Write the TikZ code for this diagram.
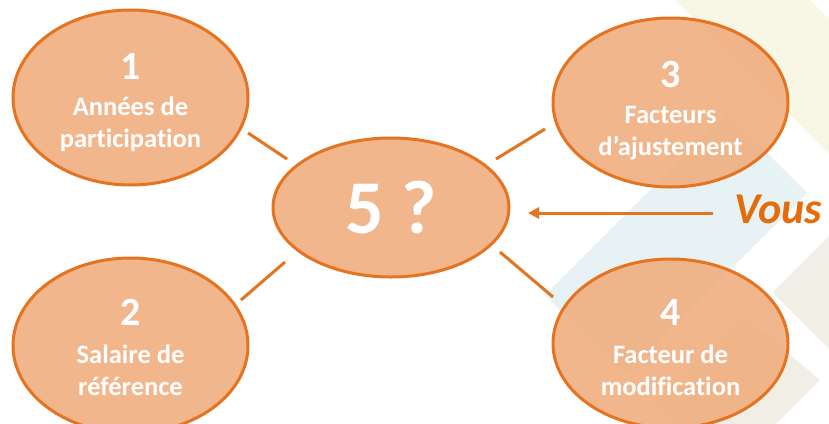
\documentclass[tikz,border=0pt]{standalone}
\usepackage{fontspec}
\setmainfont{Carlito}[Ligatures=NoCommon]
\usetikzlibrary{arrows.meta,shapes.geometric,calc}
\definecolor{ovfill}{HTML}{EFAC7C}
\definecolor{ovline}{HTML}{E5731F}
\definecolor{vouscol}{HTML}{E46C0A}
\definecolor{bgyellow}{HTML}{F8F6E4}
\definecolor{bgblue}{HTML}{E7F2F4}
\definecolor{bgbeige}{HTML}{F1EFE5}
\tikzset{
  oval/.style={ellipse, draw=ovline, line width=3pt, fill=ovfill, fill opacity=0.88, inner sep=0pt},
  bignum/.style={text=white, font=\bfseries\fontsize{40}{40}\selectfont, anchor=base, inner sep=0pt},
  lbl/.style={text=white, font=\bfseries\fontsize{26.5}{26.5}\selectfont, anchor=base, inner sep=0pt},
  conn/.style={draw=ovline, line width=3pt},
  arr/.style={draw=ovline, line width=3pt, -{Triangle[length=11pt,width=11pt]}}
}
\begin{document}
\begin{tikzpicture}[x=1pt,y=-1pt]
\useasboundingbox (0,0) rectangle (829,423);
\begin{scope}
  \clip (0,0) rectangle (829,423);
  \fill[bgyellow] (675,0) -- (810,0) -- (1000,190) -- (865,190) -- cycle;
  \fill[bgblue] (807,193) -- (727,113) -- (545,295) -- (625,375) -- cycle;
  \fill[bgbeige] (772.5,292.5) -- (842.5,222.5) -- (1020,400) -- (950,470) -- cycle;
  \fill[bgbeige] (743,315) -- (820,380) -- (725,475) -- (654,404) -- cycle;
\end{scope}
% ovals
\node[oval, minimum width=235pt, minimum height=175pt] (e1) at (130.5,97.5) {};
\node[oval, minimum width=235pt, minimum height=175pt] (e2) at (130.5,345.5) {};
\node[oval, minimum width=235pt, minimum height=169pt] (e3) at (670.5,102.5) {};
\node[oval, minimum width=235pt, minimum height=169pt] (e4) at (670.5,343.5) {};
\node[oval, minimum width=236pt, minimum height=139pt] (e5) at (391,207.5) {};
% texts
\node[bignum] (n1) at (130.5,79) {1};
\node[lbl] (a1) at (130.5,115) {Années de};
\node[lbl] (b1) at (130.5,147) {participation};
\node[bignum] (n2) at (130.5,325) {2};
\node[lbl] (a2) at (130.5,363) {Salaire de};
\node[lbl] (b2) at (130.5,395) {référence};
\node[bignum] (n3) at (670.5,87) {3};
\node[lbl] (a3) at (670.5,123) {Facteurs};
\node[lbl] (b3) at (670.5,155) {d’ajustement};
\node[bignum] (n4) at (670.5,325) {4};
\node[lbl] (a4) at (670.5,363) {Facteur de};
\node[lbl] (b4) at (670.5,395) {modification};
\node[text=white, font=\bfseries\fontsize{76}{76}\selectfont, anchor=base, inner sep=0pt] (n5) at (391,233) {5 ?};
\node[text=vouscol, font=\bfseries\itshape\fontsize{44}{44}\selectfont, anchor=base west, inner sep=0pt] (vous) at (734,223) {Vous};
% connectors
\coordinate (c1a) at (248,133); \coordinate (c1b) at (287,159);
\coordinate (c2a) at (285,262); \coordinate (c2b) at (241,300);
\coordinate (c3a) at (496,159); \coordinate (c3b) at (545,129);
\coordinate (c4a) at (500,252); \coordinate (c4b) at (553,297);
\draw[conn] (c1a) -- (c1b);
\draw[conn] (c2a) -- (c2b);
\draw[conn] (c3a) -- (c3b);
\draw[conn] (c4a) -- (c4b);
\coordinate (va) at (713,213);
\coordinate (vb) at (528,213);
\draw[arr] (va) -- (vb);
\end{tikzpicture}
\end{document}
